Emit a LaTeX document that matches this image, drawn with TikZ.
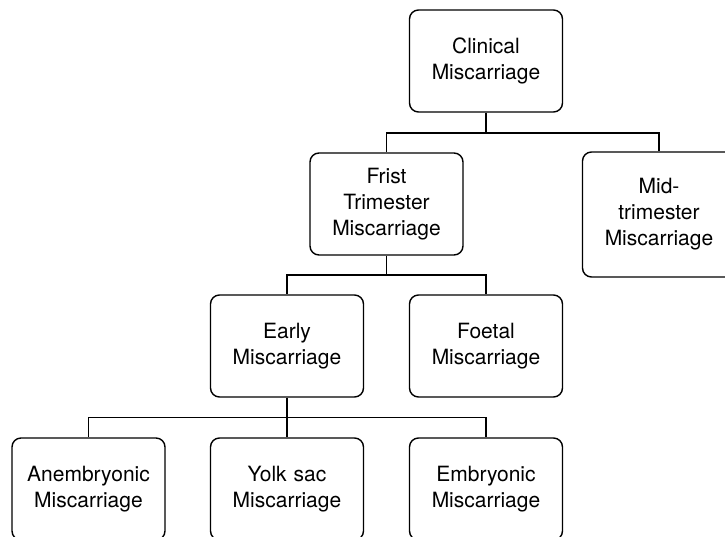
\documentclass[tikz,border=0pt]{standalone}
\usepackage{fontspec}
\setmainfont{TeX Gyre Heros}
\usepackage{tikz}
\usetikzlibrary{positioning}

\tikzset{
    box/.style={draw, line width=1.4pt, rounded corners=9pt, minimum width=153pt,
        minimum height=102pt, text width=146pt, inner sep=3pt, align=center,
        font=\fontsize{21}{26}\selectfont},
    link/.style={line width=1.4pt}
}

\begin{document}
\begin{tikzpicture}[x=1pt, y=-1pt]
                \useasboundingbox (0,0) rectangle (725,536);
                \clip (0,0) rectangle (725,536);

                \node[box] (clin) at (486, 61) {Clinical\\Miscarriage};
                \node[box] (frist) at (386.5, 204) {Frist\\Trimester\\Miscarriage};
                \node[box, minimum height=125pt] (mid) at (659, 214.5) {Mid-\\trimester\\Miscarriage};
                \node[box] (early) at (287, 346) {Early\\Miscarriage};
                \node[box] (foetal) at (486, 346) {Foetal\\Miscarriage};
                \node[box] (anem) at (88.5, 489) {Anembryonic\\Miscarriage};
                \node[box] (yolk) at (287, 489) {Yolk sac\\Miscarriage};
                \node[box] (embr) at (486, 489) {Embryonic\\Miscarriage};

                \coordinate (j1) at (486, 133);
                \coordinate (j2) at (386.5, 275);
                \coordinate (j3) at (287, 417.5);

                \draw[link] (clin) -- (j1);
                \draw[link] (j1) -| (frist);
                \draw[link] (j1) -| (mid);
                \draw[link] (frist) -- (j2);
                \draw[link] (j2) -| (early);
                \draw[link] (j2) -| (foetal);
                \draw[link] (early) -- (j3);
                \draw[link] (j3) -| (anem);
                \draw[link] (j3) -- (yolk);
                \draw[link] (j3) -| (embr);
            \end{tikzpicture}
\end{document}
